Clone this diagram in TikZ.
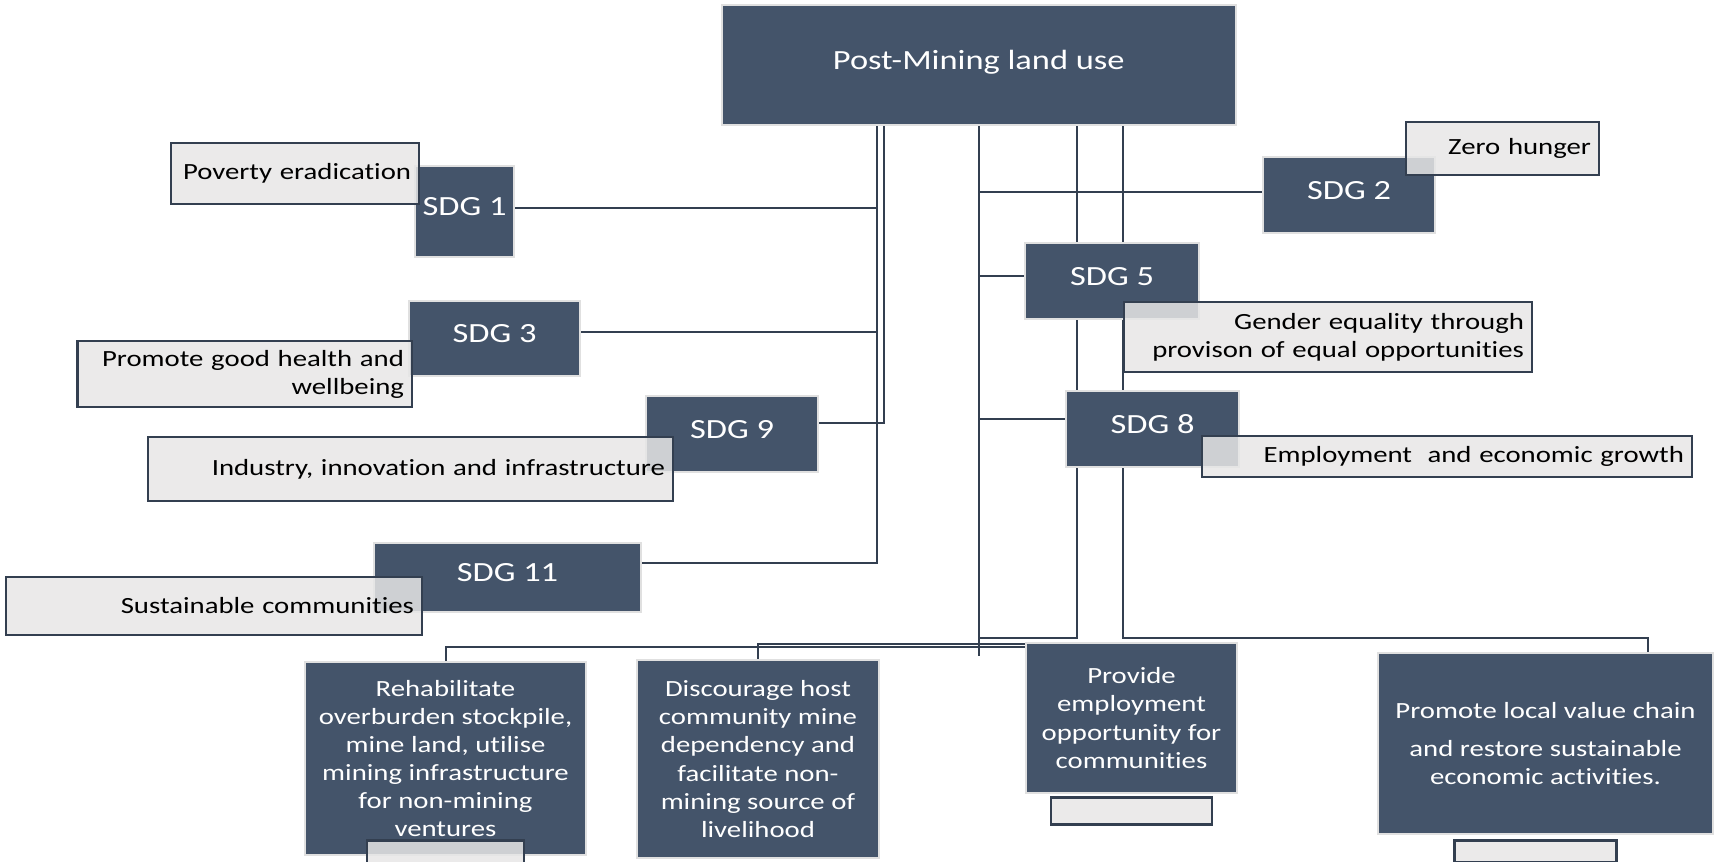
\documentclass[tikz,border=0pt]{standalone}
\usepackage{fontspec}
\setmainfont{Carlito}[FakeStretch=1.24,Ligatures={NoCommon,NoRequired,NoContextual},RawFeature={-liga;-clig;-calt;-rlig}]
\usetikzlibrary{positioning}
\definecolor{slate}{HTML}{44546A}
\definecolor{paper}{HTML}{E7E6E6}
\definecolor{wire}{HTML}{333F50}
\pgfdeclarelayer{back}
\pgfsetlayers{back,main}
\begin{document}
\begin{tikzpicture}[
   x=0.1mm,y=-0.1mm,
   goal/.style={fill=slate,draw=black!12,line width=0.25mm,text=white,inner sep=0pt},
   sdg/.style={goal,font=\fontsize{7.9}{9.5}\selectfont,text depth=1mm},
   aim/.style={goal,font=\fontsize{6.6}{8}\selectfont,align=center},
   note/.style={fill=paper,fill opacity=0.85,text opacity=1,draw=wire,line width=0.25mm,inner xsep=0.8mm,inner ysep=0pt,align=right,font=\fontsize{6.6}{8}\selectfont},
   link/.style={draw=wire,line width=0.2mm}]
\useasboundingbox (0,0) rectangle (1715,862);
\clip (0,0) rectangle (1715,862);
\node[sdg,minimum width=51.4mm,minimum height=12mm] (post) at (978.8,65) {Post-Mining land use};
\node[sdg,minimum width=9.9mm,minimum height=9.1mm] (sdg1) at (464.5,211.5) {SDG 1};
\node[sdg,minimum width=17.1mm,minimum height=7.5mm] (sdg3) at (494.5,338.5) {SDG 3};
\node[sdg,minimum width=17.2mm,minimum height=7.6mm] (sdg9) at (732,434) {SDG 9};
\node[sdg,minimum width=26.7mm,minimum height=6.9mm] (sdg11) at (507.5,577.5) {SDG 11};
\node[sdg,minimum width=17.2mm,minimum height=7.6mm] (sdg2) at (1349,195) {SDG 2};
\node[sdg,minimum width=17.4mm,minimum height=7.6mm] (sdg5) at (1112,281) {SDG 5};
\node[sdg,minimum width=17.3mm,minimum height=7.6mm] (sdg8) at (1152.5,429) {SDG 8};
\node[note,text width=23.2mm,minimum height=6.1mm] (pov) at (295,173.5) {Poverty eradication};
\node[note,text width=31.85mm,minimum height=6.6mm] (health) at (244.75,374) {Promote good health and\\wellbeing};
\node[note,text width=50.9mm,minimum height=6.4mm] (indus) at (410.5,469) {Industry, innovation and infrastructure};
\node[note,text width=40mm,minimum height=5.8mm] (sust) at (214,606) {Sustainable communities};
\node[note,text width=17.7mm,minimum height=5.3mm] (zero) at (1502.5,148.5) {Zero hunger};
\node[note,text width=39.2mm,minimum height=7mm] (gender) at (1328,337) {Gender equality through\\provison of equal opportunities};
\node[note,text width=47.4mm,minimum height=4.1mm] (employ) at (1447,456.5) {Employment\ \ and economic growth};
\node[aim,minimum width=28.1mm,minimum height=19.3mm] (rehab) at (445.5,758.5) {Rehabilitate\\overburden stockpile,\\mine land, utilise\\mining infrastructure\\for non-mining\\ventures};
\node[aim,minimum width=24.2mm,minimum height=19.8mm] (disc) at (758,759) {Discourage host\\community mine\\dependency and\\facilitate non-\\mining source of\\livelihood};
\node[aim,minimum width=21.1mm,minimum height=15mm] (prov) at (1131.5,718) {Provide\\employment\\opportunity for\\communities};
\node[aim,minimum width=33.5mm,minimum height=18.1mm] (promo) at (1545.5,743.5) {Promote local value chain\\[1mm]and restore sustainable\\economic activities.};
\node[note,minimum width=15.7mm,minimum height=2.6mm,below=-1.7mm of rehab] (rehabnote) {};
\node[note,minimum width=16.1mm,minimum height=2.7mm,below=0.2mm of prov] (provnote) {};
\node[note,minimum width=16.2mm,minimum height=2.2mm,below=0.4mm of promo,xshift=-1mm] (promonote) {};
\begin{pgfonlayer}{back}
\coordinate (bus) at ([yshift=0.4mm]prov.north -| post.south);
\coordinate (tend) at ([yshift=-1.4mm]prov.north -| post.south);
\coordinate (pdrop) at ([xshift=-6.6mm]promo.north east);
\draw[link] ([xshift=-10.2mm]post.south) |- ([yshift=0.35mm]sdg1.east);
\draw[link] ([xshift=-10.2mm]post.south) |- ([yshift=0.65mm]sdg3.east);
\draw[link] ([xshift=-9.5mm]post.south) |- ([yshift=1.1mm]sdg9.east);
\draw[link] ([xshift=-10.2mm]post.south) |- ([yshift=1.45mm]sdg11.east);
\draw[link] (post.south) |- ([yshift=0.3mm]sdg2.west);
\draw[link] (post.south) |- ([yshift=0.5mm]sdg5.west);
\draw[link] (post.south) |- ([yshift=1mm]sdg8.west);
\draw[link] (post.south) -- (tend);
\draw[link] ([xshift=9.8mm]post.south) |- (bus);
\draw[link] ([xshift=14.4mm]post.south) |- (pdrop |- bus) -- (pdrop);
\draw[link] ([yshift=-0.5mm]prov.north west) -| (rehab.north);
\draw[link] ([yshift=-0.2mm]prov.north west) -| (disc.north);
\end{pgfonlayer}
\end{tikzpicture}
\end{document}
